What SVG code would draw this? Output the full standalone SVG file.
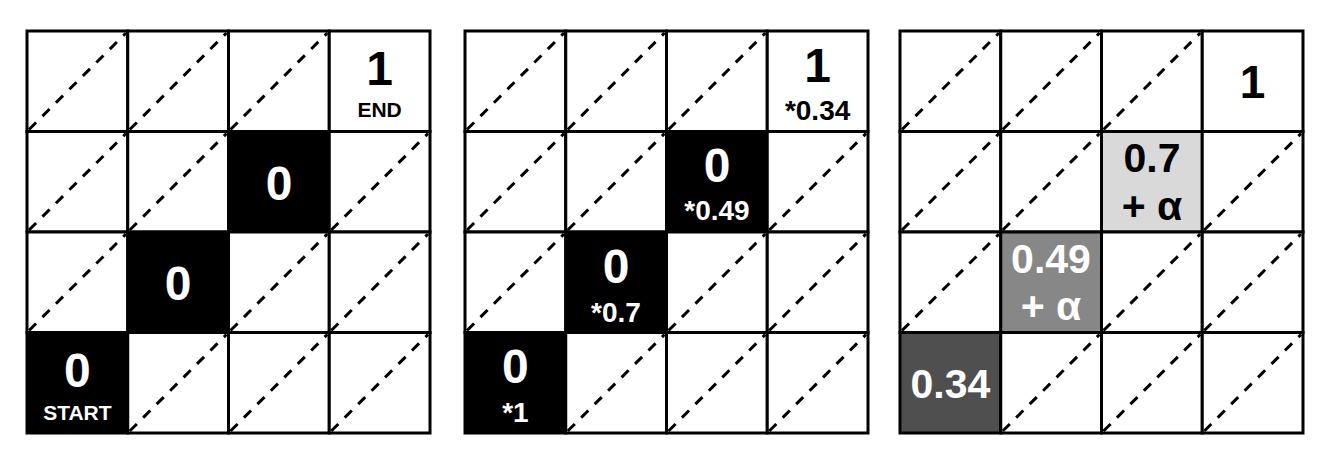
<svg xmlns="http://www.w3.org/2000/svg" width="1331" height="469" viewBox="0 0 1331 469">
<style>
.c{fill:#fff;stroke:#000;stroke-width:3}
.k{fill:#000;stroke:#000;stroke-width:3}
.l{fill:#d9d9d9;stroke:#000;stroke-width:3}
.m{fill:#878787;stroke:#000;stroke-width:3}
.d{fill:#4f4f4f;stroke:#000;stroke-width:3}
.dg{stroke:#000;stroke-width:3;stroke-dasharray:10 9;fill:none}
text{font-family:"Liberation Sans",Arial,sans-serif;font-weight:bold;text-anchor:middle}
.big{font-size:48px}
.mid{font-size:41px}
.sm{font-size:21px}
.sub{font-size:28px}
.w{fill:#fff}
.b{fill:#000}
</style>
<rect width="1331" height="469" fill="#fff"/>

<!-- Grid 1 -->
<g id="grid1">
<g id="g1-cells">
<rect class="c" x="27" y="31" width="100.75" height="100.5"/>
<rect class="c" x="127.75" y="31" width="100.75" height="100.5"/>
<rect class="c" x="228.5" y="31" width="100.75" height="100.5"/>
<rect class="c" x="329.25" y="31" width="100.75" height="100.5"/>
<rect class="c" x="27" y="131.5" width="100.75" height="100.5"/>
<rect class="c" x="127.75" y="131.5" width="100.75" height="100.5"/>
<rect class="k" x="228.5" y="131.5" width="100.75" height="100.5"/>
<rect class="c" x="329.25" y="131.5" width="100.75" height="100.5"/>
<rect class="c" x="27" y="232" width="100.75" height="100.5"/>
<rect class="k" x="127.75" y="232" width="100.75" height="100.5"/>
<rect class="c" x="228.5" y="232" width="100.75" height="100.5"/>
<rect class="c" x="329.25" y="232" width="100.75" height="100.5"/>
<rect class="k" x="27" y="332.5" width="100.75" height="100.5"/>
<rect class="c" x="127.75" y="332.5" width="100.75" height="100.5"/>
<rect class="c" x="228.5" y="332.5" width="100.75" height="100.5"/>
<rect class="c" x="329.25" y="332.5" width="100.75" height="100.5"/>
</g>
<g id="g1-diagonals">
<line class="dg" x1="29" y1="129.5" x2="126" y2="33"/>
<line class="dg" x1="129.75" y1="129.5" x2="226.5" y2="33"/>
<line class="dg" x1="230.5" y1="129.5" x2="327.25" y2="33"/>
<line class="dg" x1="29" y1="230" x2="126" y2="133.5"/>
<line class="dg" x1="129.75" y1="230" x2="226.5" y2="133.5"/>
<line class="dg" x1="331.25" y1="230" x2="428" y2="133.5"/>
<line class="dg" x1="29" y1="330.5" x2="126" y2="234"/>
<line class="dg" x1="230.5" y1="330.5" x2="327.25" y2="234"/>
<line class="dg" x1="331.25" y1="330.5" x2="428" y2="234"/>
<line class="dg" x1="129.75" y1="431" x2="226.5" y2="334.5"/>
<line class="dg" x1="230.5" y1="431" x2="327.25" y2="334.5"/>
<line class="dg" x1="331.25" y1="431" x2="428" y2="334.5"/>
</g>
<g id="g1-end"><text class="big b" x="379.6" y="85">1</text><text class="sm b" x="379.6" y="117">END</text></g>
<g id="g1-z1"><text class="big w" x="279" y="200">0</text></g>
<g id="g1-z2"><text class="big w" x="178" y="300">0</text></g>
<g id="g1-start"><text class="big w" x="77.4" y="387">0</text><text class="sm w" x="77.4" y="420">START</text></g>
</g>

<!-- Grid 2 -->
<g id="grid2">
<g id="g2-cells">
<rect class="c" x="465" y="31" width="100.75" height="100.5"/>
<rect class="c" x="565.75" y="31" width="100.75" height="100.5"/>
<rect class="c" x="666.5" y="31" width="100.75" height="100.5"/>
<rect class="c" x="767.25" y="31" width="100.75" height="100.5"/>
<rect class="c" x="465" y="131.5" width="100.75" height="100.5"/>
<rect class="c" x="565.75" y="131.5" width="100.75" height="100.5"/>
<rect class="k" x="666.5" y="131.5" width="100.75" height="100.5"/>
<rect class="c" x="767.25" y="131.5" width="100.75" height="100.5"/>
<rect class="c" x="465" y="232" width="100.75" height="100.5"/>
<rect class="k" x="565.75" y="232" width="100.75" height="100.5"/>
<rect class="c" x="666.5" y="232" width="100.75" height="100.5"/>
<rect class="c" x="767.25" y="232" width="100.75" height="100.5"/>
<rect class="k" x="465" y="332.5" width="100.75" height="100.5"/>
<rect class="c" x="565.75" y="332.5" width="100.75" height="100.5"/>
<rect class="c" x="666.5" y="332.5" width="100.75" height="100.5"/>
<rect class="c" x="767.25" y="332.5" width="100.75" height="100.5"/>
</g>
<g id="g2-diagonals">
<line class="dg" x1="467" y1="129.5" x2="564" y2="33"/>
<line class="dg" x1="567.75" y1="129.5" x2="664.5" y2="33"/>
<line class="dg" x1="668.5" y1="129.5" x2="765.25" y2="33"/>
<line class="dg" x1="467" y1="230" x2="564" y2="133.5"/>
<line class="dg" x1="567.75" y1="230" x2="664.5" y2="133.5"/>
<line class="dg" x1="769.25" y1="230" x2="866" y2="133.5"/>
<line class="dg" x1="467" y1="330.5" x2="564" y2="234"/>
<line class="dg" x1="668.5" y1="330.5" x2="765.25" y2="234"/>
<line class="dg" x1="769.25" y1="330.5" x2="866" y2="234"/>
<line class="dg" x1="567.75" y1="431" x2="664.5" y2="334.5"/>
<line class="dg" x1="668.5" y1="431" x2="765.25" y2="334.5"/>
<line class="dg" x1="769.25" y1="431" x2="866" y2="334.5"/>
</g>
<g id="g2-end"><text class="big b" x="817.6" y="82">1</text><text class="sub b" x="817.6" y="120">*0.34</text></g>
<g id="g2-z1"><text class="big w" x="717" y="182">0</text><text class="sub w" x="717" y="220">*0.49</text></g>
<g id="g2-z2"><text class="big w" x="616" y="283">0</text><text class="sub w" x="616" y="322">*0.7</text></g>
<g id="g2-start"><text class="big w" x="515.4" y="383">0</text><text class="sub w" x="515.4" y="422">*1</text></g>
</g>

<!-- Grid 3 -->
<g id="grid3">
<g id="g3-cells">
<rect class="c" x="900" y="31" width="100.75" height="100.5"/>
<rect class="c" x="1000.75" y="31" width="100.75" height="100.5"/>
<rect class="c" x="1101.5" y="31" width="100.75" height="100.5"/>
<rect class="c" x="1202.25" y="31" width="100.75" height="100.5"/>
<rect class="c" x="900" y="131.5" width="100.75" height="100.5"/>
<rect class="c" x="1000.75" y="131.5" width="100.75" height="100.5"/>
<rect class="l" x="1101.5" y="131.5" width="100.75" height="100.5"/>
<rect class="c" x="1202.25" y="131.5" width="100.75" height="100.5"/>
<rect class="c" x="900" y="232" width="100.75" height="100.5"/>
<rect class="m" x="1000.75" y="232" width="100.75" height="100.5"/>
<rect class="c" x="1101.5" y="232" width="100.75" height="100.5"/>
<rect class="c" x="1202.25" y="232" width="100.75" height="100.5"/>
<rect class="d" x="900" y="332.5" width="100.75" height="100.5"/>
<rect class="c" x="1000.75" y="332.5" width="100.75" height="100.5"/>
<rect class="c" x="1101.5" y="332.5" width="100.75" height="100.5"/>
<rect class="c" x="1202.25" y="332.5" width="100.75" height="100.5"/>
</g>
<g id="g3-diagonals">
<line class="dg" x1="902" y1="129.5" x2="999" y2="33"/>
<line class="dg" x1="1002.75" y1="129.5" x2="1099.5" y2="33"/>
<line class="dg" x1="1103.5" y1="129.5" x2="1200.25" y2="33"/>
<line class="dg" x1="902" y1="230" x2="999" y2="133.5"/>
<line class="dg" x1="1002.75" y1="230" x2="1099.5" y2="133.5"/>
<line class="dg" x1="1204.25" y1="230" x2="1301" y2="133.5"/>
<line class="dg" x1="902" y1="330.5" x2="999" y2="234"/>
<line class="dg" x1="1103.5" y1="330.5" x2="1200.25" y2="234"/>
<line class="dg" x1="1204.25" y1="330.5" x2="1301" y2="234"/>
<line class="dg" x1="1002.75" y1="431" x2="1099.5" y2="334.5"/>
<line class="dg" x1="1103.5" y1="431" x2="1200.25" y2="334.5"/>
<line class="dg" x1="1204.25" y1="431" x2="1301" y2="334.5"/>
</g>
<g id="g3-end"><text class="big b" x="1252.6" y="98" style="font-size:46px">1</text></g>
<g id="g3-v1"><text class="mid b" x="1152" y="172">0.7</text><text class="mid b" x="1152" y="220">+ α</text></g>
<g id="g3-v2"><text class="mid w" x="1051" y="273">0.49</text><text class="mid w" x="1051" y="320">+ α</text></g>
<g id="g3-v3"><text class="mid w" x="950.4" y="398">0.34</text></g>
</g>
</svg>
